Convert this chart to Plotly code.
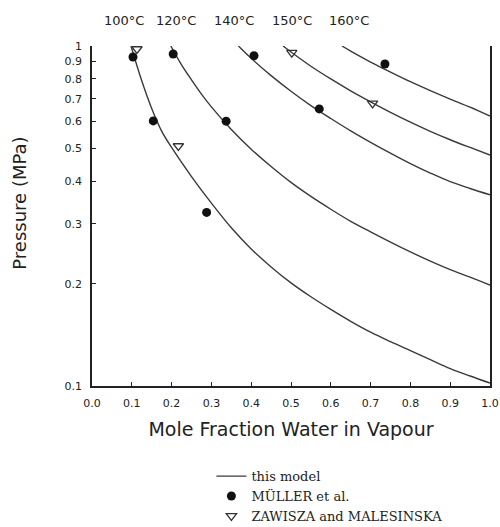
import plotly.graph_objects as go

# Model isotherms: mole fraction water in vapour vs pressure (MPa)
x_100 = [0.098, 0.125, 0.15, 0.175, 0.2, 0.25, 0.3, 0.35, 0.4, 0.45, 0.5, 0.55, 0.6, 0.65, 0.7, 0.75, 0.8, 0.85, 0.9, 0.95, 1.0]
p_100 = [1.0, 0.79, 0.655, 0.562, 0.503, 0.413, 0.345, 0.292, 0.253, 0.224, 0.201, 0.183, 0.168, 0.155, 0.144, 0.135, 0.127, 0.1195, 0.1125, 0.107, 0.102]

x_120 = [0.198, 0.225, 0.25, 0.275, 0.3, 0.35, 0.4, 0.45, 0.5, 0.55, 0.6, 0.65, 0.7, 0.75, 0.8, 0.85, 0.9, 0.95, 1.0]
p_120 = [1.0, 0.88, 0.795, 0.722, 0.662, 0.568, 0.497, 0.442, 0.397, 0.361, 0.331, 0.305, 0.284, 0.265, 0.248, 0.233, 0.22, 0.209, 0.198]

x_140 = [0.368, 0.4, 0.45, 0.5, 0.55, 0.6, 0.65, 0.7, 0.75, 0.8, 0.85, 0.9, 0.95, 1.0]
p_140 = [1.0, 0.92, 0.818, 0.736, 0.668, 0.612, 0.563, 0.521, 0.484, 0.451, 0.423, 0.399, 0.381, 0.365]

x_150 = [0.48, 0.5, 0.55, 0.6, 0.65, 0.7, 0.75, 0.8, 0.85, 0.9, 0.95, 1.0]
p_150 = [1.0, 0.96, 0.872, 0.8, 0.738, 0.685, 0.638, 0.597, 0.561, 0.53, 0.503, 0.478]

x_160 = [0.628, 0.65, 0.7, 0.75, 0.8, 0.85, 0.9, 0.95, 1.0]
p_160 = [1.0, 0.966, 0.897, 0.838, 0.785, 0.739, 0.698, 0.661, 0.622]

# Experimental data
muller_x = [0.103, 0.154, 0.288, 0.204, 0.337, 0.407, 0.571, 0.736]
muller_p = [0.928, 0.602, 0.324, 0.947, 0.601, 0.936, 0.653, 0.885]

zaw_x = [0.113, 0.217, 0.502, 0.705]
zaw_p = [0.98, 0.508, 0.956, 0.678]

iso_labels = ["100°C", "120°C", "140°C", "150°C", "160°C"]
iso_label_x = [0.08, 0.211, 0.357, 0.503, 0.646]

y_ticks = [0.1, 0.2, 0.3, 0.4, 0.5, 0.6, 0.7, 0.8, 0.9, 1]
y_ticktext = ["0.1", "0.2", "0.3", "0.4", "0.5", "0.6", "0.7", "0.8", "0.9", "1"]

LINE_COLOR = "#3a3a3a"
INK = "#222222"

fig = go.Figure()
curves = [(x_100, p_100), (x_120, p_120), (x_140, p_140), (x_150, p_150), (x_160, p_160)]
for i, (xs, ps) in enumerate(curves):
    fig.add_trace(go.Scatter(
        x=xs, y=ps, mode="lines", line=dict(color=LINE_COLOR, width=1.4, shape="spline", smoothing=1.0),
        name="this model", legendgroup="model", showlegend=(i == 0)))

fig.add_trace(go.Scatter(
    x=muller_x, y=muller_p, mode="markers", name="MÜLLER et al.",
    marker=dict(symbol="circle", size=9, color="#111111")))
fig.add_trace(go.Scatter(
    x=zaw_x, y=zaw_p, mode="markers", name="ZAWISZA and MALESINSKA",
    marker=dict(symbol="triangle-down-open", size=9, color="#333333", line=dict(width=1.3))))

for lab, lx in zip(iso_labels, iso_label_x):
    fig.add_annotation(x=lx, xref="x", y=1.076, yref="paper", text=lab, showarrow=False,
                       font=dict(family="DejaVu Sans", size=13, color=INK), xanchor="center", yanchor="middle")

fig.add_annotation(x=-0.181, xref="paper", y=0.539, yref="paper", text="Pressure (MPa)", textangle=-90,
                   showarrow=False, font=dict(family="DejaVu Sans", size=18, color=INK),
                   xanchor="center", yanchor="middle")

fig.update_xaxes(range=[0, 1], tickvals=[i / 10 for i in range(11)], tickformat=".1f",
                 ticks="inside", ticklen=4, tickcolor=INK, showline=True, linecolor=INK, linewidth=1.5,
                 showgrid=False, zeroline=False, ticklabelstandoff=6,
                 tickfont=dict(family="DejaVu Sans", size=11, color=INK),
                 title=dict(text="Mole Fraction Water in Vapour", standoff=14,
                            font=dict(family="DejaVu Sans", size=19, color=INK)))
fig.update_yaxes(type="log", range=[-1, 0], tickvals=y_ticks, ticktext=y_ticktext,
                 ticks="inside", ticklen=4, tickcolor=INK, showline=True, linecolor=INK, linewidth=1.5,
                 mirror=True, showgrid=False, zeroline=False, ticklabelstandoff=6,
                 tickfont=dict(family="DejaVu Sans", size=11, color=INK))

fig.update_layout(
    width=500, height=527, autosize=False,
    margin=dict(l=92, r=10, t=46, b=141, autoexpand=False),
    paper_bgcolor="white", plot_bgcolor="white",
    showlegend=True,
    legend=dict(x=0.30, y=-0.221, xanchor="left", yanchor="top", bgcolor="rgba(0,0,0,0)",
                font=dict(family="DejaVu Serif", size=13, color=INK), tracegroupgap=0),
)

fig.write_html("out.html", config={"displayModeBar": False},
               post_script="document.body.style.margin='0';document.body.style.padding='0';")
